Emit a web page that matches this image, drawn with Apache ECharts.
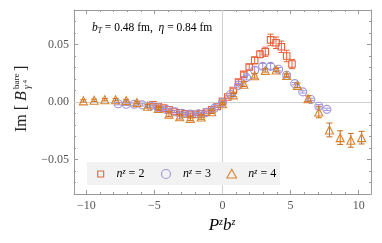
<!DOCTYPE html>
<html><head><meta charset="utf-8">
<script src="https://cdn.jsdelivr.net/npm/echarts@6/dist/echarts.min.js"></script>
<style>html,body{margin:0;padding:0;background:#fff}#c{width:382px;height:243px}</style>
</head><body><div id="c"></div>
<script>
// ---- data ----
const xN2 = [-5.10,-4.71,-4.32,-3.93,-3.53,-3.14,-2.75,-2.36,-1.96,-1.57,-1.18,-0.79,-0.39,0,0.39,0.79,1.18,1.57,1.96,2.36,2.75,3.14,3.53,3.93,4.32,4.71,5.10];
const yN2 = [-0.0024,-0.0038,-0.0053,-0.0068,-0.0082,-0.0094,-0.0103,-0.0108,-0.0108,-0.0103,-0.0088,-0.0068,-0.0038,0.0006,0.0043,0.0100,0.0174,0.0240,0.0304,0.0362,0.0415,0.0437,0.0540,0.0515,0.0480,0.0400,0.0330];
const eN2 = [0.001,0.001,0.001,0.001,0.001,0.001,0.001,0.001,0.001,0.001,0.001,0.001,0.001,0.001,0.001,0.0015,0.002,0.002,0.0025,0.003,0.003,0.004,0.005,0.005,0.005,0.005,0.004];

const xN3 = [-7.66,-7.07,-6.48,-5.89,-5.30,-4.71,-4.12,-3.53,-2.95,-2.36,-1.77,-1.18,-0.59,0,0.59,1.18,1.77,2.36,2.95,3.53,4.12,4.71,5.30,5.89,6.48,7.07,7.66];
const yN3 = [-0.0015,-0.002,-0.002,-0.0025,-0.0035,-0.005,-0.0065,-0.0085,-0.0098,-0.0105,-0.0102,-0.009,-0.0055,-0.0005,0.0065,0.0145,0.0212,0.0276,0.031,0.031,0.0285,0.0232,0.016,0.0088,0.0022,-0.0037,-0.0064];
const eN3 = [0.001,0.001,0.001,0.001,0.001,0.001,0.001,0.001,0.001,0.001,0.001,0.001,0.001,0.001,0.001,0.0015,0.002,0.003,0.0025,0.0025,0.0015,0.001,0.001,0.001,0.001,0.0015,0.001];

const xN4 = [-10.21,-9.42,-8.64,-7.85,-7.07,-6.28,-5.50,-4.71,-3.93,-3.14,-2.36,-1.57,-0.79,0,0.79,1.57,2.36,3.14,3.93,4.71,5.50,6.28,7.07,7.85,8.64,9.42,10.21];
const yN4 = [0.001,0.0015,0.002,0.002,0.0012,-0.0005,-0.0037,-0.0057,-0.0105,-0.0128,-0.0142,-0.013,-0.0085,-0.0015,0.0062,0.0155,0.0228,0.0275,0.0278,0.023,0.0145,0.0028,-0.0087,-0.0243,-0.031,-0.0333,-0.031];
const eN4 = [0.001,0.001,0.001,0.001,0.0012,0.0012,0.0015,0.0015,0.002,0.002,0.002,0.002,0.0015,0.0012,0.0015,0.002,0.002,0.0015,0.0015,0.0015,0.002,0.0025,0.005,0.006,0.006,0.006,0.0055];

const xMajorTicks = [-10,-5,0,5,10];
const xMinorTicks = [-10,-9,-8,-7,-6,-5,-4,-3,-2,-1,0,1,2,3,4,5,6,7,8,9,10];
const yMajorTicks = [-0.05,0,0.05];
const yMinorTicks = [-0.08,-0.07,-0.06,-0.05,-0.04,-0.03,-0.02,-0.01,0,0.01,0.02,0.03,0.04,0.05,0.06,0.07,0.08];
const legendLabels = ['2','3','4'];

// ---- styling ----
const C2 = '#E8603C', C3 = '#9E94D8', C4 = '#D9832E', C4E = '#C96A1C';
const FR = '#9a9a9a';
const SERIF = '"Liberation Serif","DejaVu Serif",serif';
const XMIN = -10.9, XMAX = 10.9, YMIN = -0.08, YMAX = 0.08;

function fmtX(v){ return (v<0?'\u2212':'') + Math.abs(v); }
function fmtY(v){ return (v<-1e-9?'\u2212':'') + Math.abs(v).toFixed(2); }

function xAx(pos, ticks, len, labels, line){
  return {type:'value', min:XMIN, max:XMAX, position:pos,
    axisLine:{show:line, onZero:false, lineStyle:{color:FR, width:1}},
    axisTick:{show:true, inside:true, length:len, customValues:ticks, lineStyle:{color:FR, width:1}},
    axisLabel:{show:labels, customValues:ticks, formatter:fmtX, color:'#555', fontFamily:SERIF, fontSize:12, margin:6},
    splitLine:{show:false}};
}
function yAx(pos, ticks, len, labels, line){
  return {type:'value', min:YMIN, max:YMAX, position:pos,
    axisLine:{show:line, onZero:false, lineStyle:{color:FR, width:1}},
    axisTick:{show:true, inside:true, length:len, customValues:ticks, lineStyle:{color:FR, width:1}},
    axisLabel:{show:labels, customValues:ticks, formatter:fmtY, color:'#555', fontFamily:SERIF, fontSize:12, margin:5},
    splitLine:{show:false}};
}

function zip(xs, ys, es){ return xs.map((x,i)=>[x, ys[i], es[i]]); }

function errSeries(name, data, color, z){
  return {type:'custom', name:name, xAxisIndex:0, yAxisIndex:0, z:z, silent:true,
    encode:{x:0, y:1},
    data:data,
    renderItem:function(params, api){
      const x = api.value(0), y = api.value(1), e = api.value(2);
      const lo = api.coord([x, y-e]), hi = api.coord([x, y+e]);
      const w = 3;
      const st = {stroke:color, lineWidth:1};
      return {type:'group', children:[
        {type:'line', shape:{x1:lo[0], y1:lo[1], x2:hi[0], y2:hi[1]}, style:st},
        {type:'line', shape:{x1:lo[0]-w, y1:lo[1], x2:lo[0]+w, y2:lo[1]}, style:st},
        {type:'line', shape:{x1:hi[0]-w, y1:hi[1], x2:hi[0]+w, y2:hi[1]}, style:st}
      ]};
    }};
}
function markSeries(name, data, color, symbol, size, z){
  return {type:'scatter', name:name, xAxisIndex:0, yAxisIndex:0, z:z, silent:true,
    symbol:symbol, symbolSize:size,
    itemStyle:{color:'rgba(255,255,255,0)', borderColor:color, borderWidth:1.1, opacity:1},
    data:data.map(d=>[d[0], d[1]])};
}

const d2 = zip(xN2, yN2, eN2), d3 = zip(xN3, yN3, eN3), d4 = zip(xN4, yN4, eN4);

const legendRich = {
  i:{fontFamily:SERIF, fontStyle:'italic', fontSize:12, color:'#222'},
  s:{fontFamily:SERIF, fontStyle:'italic', fontSize:8, color:'#222', verticalAlign:'top', padding:[0,0,5,0]},
  r:{fontFamily:SERIF, fontSize:12, color:'#222'}
};

const chart = echarts.init(document.getElementById('c'), null, {renderer:'canvas'});
chart.setOption({
  animation:false,
  backgroundColor:'#fff',
  grid:{left:74, right:11, top:10, bottom:49, show:false},
  xAxis:[xAx('bottom', xMajorTicks, 4, true, true), xAx('bottom', xMinorTicks, 2, false, false),
         xAx('top', xMajorTicks, 4, false, true), xAx('top', xMinorTicks, 2, false, false)],
  yAxis:[yAx('left', yMajorTicks, 4, true, true), yAx('left', yMinorTicks, 2, false, false),
         yAx('right', yMajorTicks, 4, false, true), yAx('right', yMinorTicks, 2, false, false)],
  series:[
    {type:'line', data:[], xAxisIndex:0, yAxisIndex:0, z:1, silent:true,
      markLine:{silent:true, symbol:['none','none'], label:{show:false},
        lineStyle:{color:'#d0d0d0', width:1, type:'solid'},
        data:[{xAxis:0},{yAxis:0}]}},
    errSeries('e2', d2, C2, 3), markSeries('n2', d2, C2, 'rect', 6.5, 4),
    errSeries('e3', d3, C3, 5), markSeries('n3', d3, C3, 'circle', 8, 6),
    errSeries('e4', d4, C4E, 7), markSeries('n4', d4, C4, 'triangle', 8, 8)
  ],
  graphic:[
    {type:'text', left:92, top:22, style:{text:'{i|b}{sub|T}{r| = 0.48 fm,  }{i|\u03b7}{r| = 0.84 fm}',
      rich:{i:{fontFamily:SERIF, fontStyle:'italic', fontSize:11.5, color:'#222'},
            sub:{fontFamily:SERIF, fontStyle:'italic', fontSize:7.5, color:'#222', verticalAlign:'bottom', padding:[6,0,0,0]},
            r:{fontFamily:SERIF, fontSize:11.5, color:'#222'}}}},
    // legend
    {type:'rect', shape:{x:87, y:162, width:193, height:23}, style:{fill:'#f2f2f2'}, z:20},
    {type:'rect', shape:{x:97.7, y:171, width:6, height:6}, style:{fill:'none', stroke:C2, lineWidth:1.1}, z:21},
    {type:'circle', shape:{cx:166, cy:174, r:4.5}, style:{fill:'none', stroke:C3, lineWidth:1.1}, z:21},
    {type:'polygon', shape:{points:[[231.7,169.3],[236.5,178],[226.9,178]]}, style:{fill:'none', stroke:C4, lineWidth:1.1}, z:21},
    {type:'text', x:116.5, y:174, z:21, style:{text:'{i|n}{s|z}{r| = '+legendLabels[0]+'}', rich:legendRich, verticalAlign:'middle'}},
    {type:'text', x:183, y:174, z:21, style:{text:'{i|n}{s|z}{r| = '+legendLabels[1]+'}', rich:legendRich, verticalAlign:'middle'}},
    {type:'text', x:248.3, y:174, z:21, style:{text:'{i|n}{s|z}{r| = '+legendLabels[2]+'}', rich:legendRich, verticalAlign:'middle'}},
    // x axis title
    {type:'text', x:222, y:226, style:{text:'{i|P}{s|z}{i|b}{s|z}', align:'center', verticalAlign:'middle',
      rich:{i:{fontFamily:SERIF, fontStyle:'italic', fontSize:17, color:'#222'},
            s:{fontFamily:SERIF, fontStyle:'italic', fontSize:10, color:'#222', verticalAlign:'top', padding:[0,0,7,0]}}}},
    // y axis title (rotated)
    {type:'group', x:22, y:100, rotation:Math.PI/2, children:[
      {type:'text', x:-32, y:0, style:{text:'Im [', fontFamily:SERIF, fontSize:16, fill:'#222', verticalAlign:'middle'}},
      {type:'text', x:-1, y:0, style:{text:'B', fontFamily:SERIF, fontStyle:'italic', fontSize:16, fill:'#222', verticalAlign:'middle'}},
      {type:'text', x:11, y:-5, style:{text:'bare', fontFamily:SERIF, fontSize:9, fill:'#222', verticalAlign:'middle'}},
      {type:'text', x:11, y:5, style:{text:'\u03b3', fontFamily:SERIF, fontStyle:'italic', fontSize:10, fill:'#222', verticalAlign:'middle'}},
      {type:'text', x:16.5, y:3, style:{text:'4', fontFamily:SERIF, fontSize:7, fill:'#222', verticalAlign:'middle'}},
      {type:'text', x:29, y:0, style:{text:']', fontFamily:SERIF, fontSize:16, fill:'#222', verticalAlign:'middle'}}
    ]}
  ]
});
</script></body></html>
